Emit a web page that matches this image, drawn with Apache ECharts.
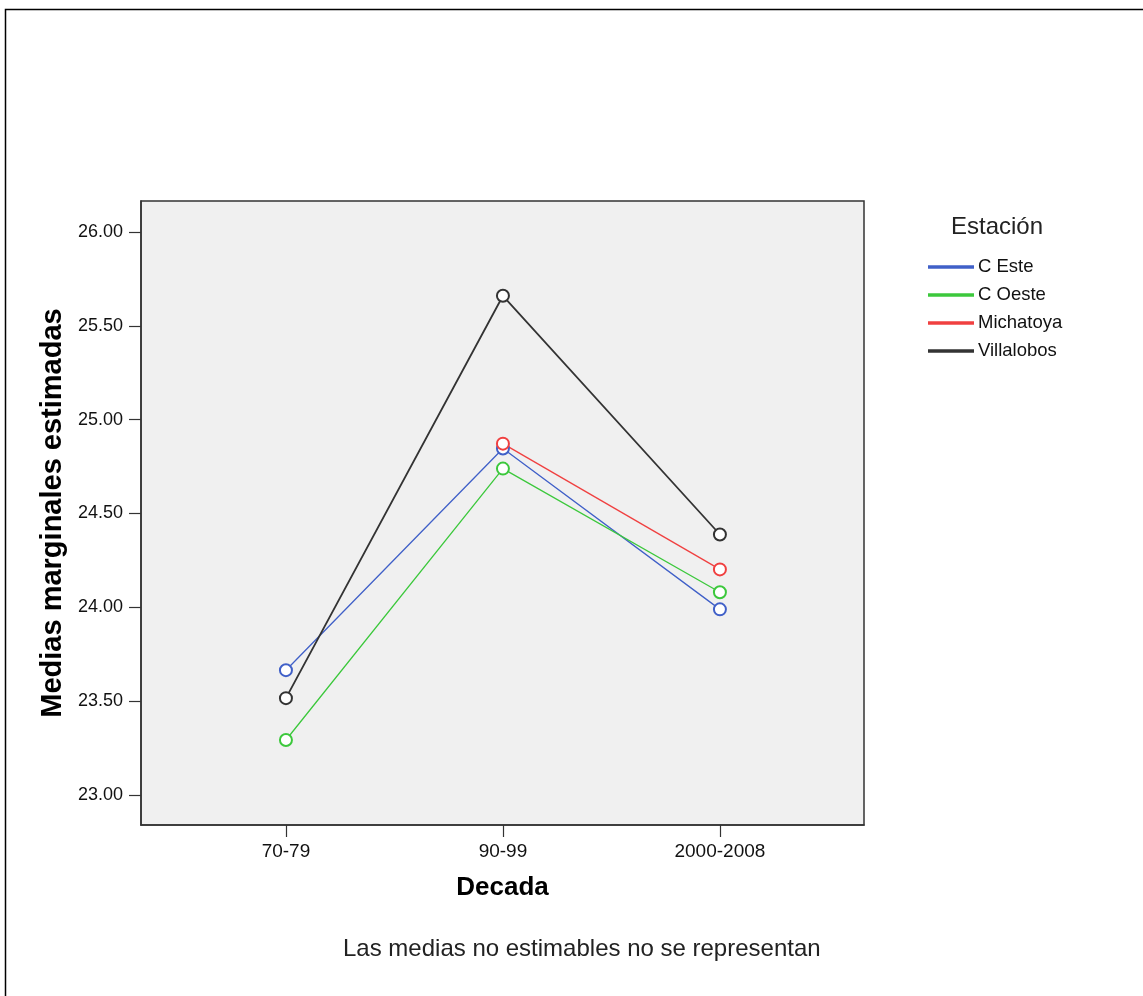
<!DOCTYPE html>
<html>
<head>
<meta charset="utf-8">
<script src="https://cdn.jsdelivr.net/npm/echarts@6/dist/echarts.min.js"></script>
<style>
  html, body { margin: 0; padding: 0; background: #fff; }
  #chart { width: 1143px; height: 996px; }
</style>
</head>
<body>
<div id="chart"></div>
<script>
// Decades on the horizontal axis
const decadas = ['70-79', '90-99', '2000-2008'];

// Estimated marginal means per station (null = not estimable)
const cEste      = [23.665, 24.846, 23.989];
const cOeste     = [23.293, 24.739, 24.080];
const michatoya  = [null,   24.872, 24.202];
const villalobos = [23.516, 25.660, 24.388];

const estaciones = ['C Este', 'C Oeste', 'Michatoya', 'Villalobos'];
const colores = ['#4060c8', '#3cc83c', '#f04040', '#333333'];
const grosor = [1.3, 1.3, 1.3, 1.8];

// Tick values on the mean axis
const yTicks = [23.0, 23.5, 24.0, 24.5, 25.0, 25.5, 26.0];

const seriesValues = [cEste, cOeste, michatoya, villalobos];

function toPoints(arr) {
  const pts = [];
  arr.forEach(function (v, i) { if (v !== null) pts.push([i, v]); });
  return pts;
}

const font = 'Liberation Sans, Arial, sans-serif';
const chart = echarts.init(document.getElementById('chart'));

chart.setOption({
  backgroundColor: '#ffffff',
  animation: false,
  graphic: [
    {
      type: 'rect', z: -10,
      shape: { x: 5.5, y: 9.5, width: 1200, height: 1100 },
      style: { fill: '#ffffff', stroke: '#000', lineWidth: 1.5 }
    },
    {
      type: 'text', left: 951, top: 215,
      style: { text: 'Estación', font: '24px ' + font, fill: '#222' }
    },
    {
      type: 'text', left: 343, top: 937,
      style: { text: 'Las medias no estimables no se representan', font: '24px ' + font, fill: '#222' }
    }
  ],
  legend: {
    orient: 'vertical',
    left: 923, top: 252,
    icon: 'rect',
    itemWidth: 44, itemHeight: 1.5,
    itemGap: 8,
    data: estaciones,
    textStyle: { fontFamily: font, fontSize: 18.5, color: '#111', lineHeight: 20 }
  },
  grid: {
    left: 141, top: 201, right: 279, bottom: 171,
    show: true, backgroundColor: '#f0f0f0', borderColor: '#333', borderWidth: 1.5
  },
  xAxis: {
    type: 'value',
    min: -0.668, max: 2.664,
    name: 'Decada', nameLocation: 'middle', nameGap: 50,
    nameTextStyle: { fontFamily: font, fontSize: 26, fontWeight: 'bold', color: '#000' },
    axisLine: { show: true, onZero: false, lineStyle: { color: '#333', width: 1.5 } },
    axisTick: { show: true, customValues: [0, 1, 2], length: 12, lineStyle: { color: '#333', width: 1.2 } },
    axisLabel: {
      customValues: [0, 1, 2], margin: 17,
      fontFamily: font, fontSize: 19, color: '#111',
      formatter: function (v) { return decadas[Math.round(v)]; }
    },
    splitLine: { show: false }
  },
  yAxis: {
    type: 'value',
    min: 22.84, max: 26.165,
    name: 'Medias marginales estimadas', nameLocation: 'middle', nameGap: 68,
    nameTextStyle: { fontFamily: font, fontSize: 29, fontWeight: 'bold', color: '#000' },
    axisLine: { show: true, onZero: false, lineStyle: { color: '#333', width: 1.5 } },
    axisTick: { show: true, customValues: yTicks, length: 12, lineStyle: { color: '#333', width: 1.2 } },
    axisLabel: {
      customValues: yTicks, margin: 18,
      fontFamily: font, fontSize: 18, color: '#111',
      formatter: function (v) { return v.toFixed(2); }
    },
    splitLine: { show: false }
  },
  series: estaciones.map(function (name, k) {
    return {
      name: name,
      type: 'line',
      data: toPoints(seriesValues[k]),
      symbol: 'emptyCircle',
      symbolSize: 12,
      color: colores[k],
      lineStyle: { color: colores[k], width: grosor[k] },
      itemStyle: { color: colores[k], borderColor: colores[k], borderWidth: 1.2 }
    };
  })
});
</script>
</body>
</html>
